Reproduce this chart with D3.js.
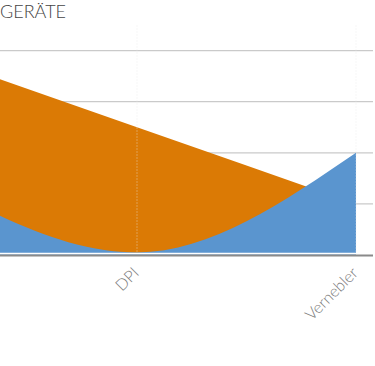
<!DOCTYPE html>
<html>
<head>
<meta charset="utf-8">
<script src="https://cdn.jsdelivr.net/npm/d3@7"></script>
<style>
    html, body { margin: 0; padding: 0; background: #fff; overflow: hidden; }
    #chart { width: 375px; height: 366px; }
    text { font-family: "Lato", "Open Sans", sans-serif; font-weight: 300; }
</style>
</head>
<body>
<div id="chart"></div>
<script>
const categories = ["Inhalator", "DPI", "Vernebler"];
const orangeValues = [4, 2.5, 1];
const blueValues = [1.6, 0.05, 2];
const gridTicks = [1, 2, 3, 4];
const title = "GERÄTE";

document.addEventListener('DOMContentLoaded', function () {
    const width = 375;
    const height = 366;

    const svg = d3.select("#chart")
        .append("svg")
        .attr("width", width)
        .attr("height", height);

    // plot area is wider than the window, the left part is cut off
    const x = d3.scalePoint()
        .domain(categories)
        .range([-82, 356]);

    const y = d3.scaleLinear()
        .domain([0, 4.5])
        .range([255, 25]);

    const plotRight = 373;

    // horizontal grid
    svg.append("g")
        .selectAll("line")
        .data(gridTicks)
        .enter()
        .append("line")
        .attr("x1", -120)
        .attr("x2", plotRight)
        .attr("y1", d => y(d))
        .attr("y2", d => y(d))
        .attr("stroke", "#cacaca")
        .attr("stroke-width", 1.2);

    const area = values => d3.area()
        .x((d, i) => x(categories[i]))
        .y0(y(0))
        .y1(d => y(d))
        .curve(d3.curveMonotoneX)(values);

    svg.append("path")
        .attr("d", area(orangeValues))
        .attr("fill", "#db7a05");

    svg.append("path")
        .attr("d", area(blueValues))
        .attr("fill", "#5a95cf");

    // vertical dotted grid on top of the areas
    svg.append("g")
        .selectAll("line")
        .data(categories)
        .enter()
        .append("line")
        .attr("x1", d => x(d))
        .attr("x2", d => x(d))
        .attr("y1", y.range()[1])
        .attr("y2", y(0) - 2)
        .attr("stroke", "#e6e6e6")
        .attr("stroke-opacity", 0.35)
        .attr("stroke-width", 1)
        .attr("stroke-dasharray", "2,1");

    // gap + baseline
    svg.append("line")
        .attr("x1", -120)
        .attr("x2", plotRight)
        .attr("y1", y(0) - 1.4)
        .attr("y2", y(0) - 1.4)
        .attr("stroke", "#fff")
        .attr("stroke-width", 1.8);

    svg.append("line")
        .attr("x1", -120)
        .attr("x2", plotRight)
        .attr("y1", y(0) + 0.5)
        .attr("y2", y(0) + 0.5)
        .attr("stroke", "#8a8a8a")
        .attr("stroke-width", 2.2);

    // category labels (only the ones inside the window)
    svg.append("g")
        .selectAll("text")
        .data(categories.filter(d => x(d) > 0))
        .enter()
        .append("text")
        .attr("transform", d => `translate(${x(d) + 3},${y(0) + 19}) rotate(-45)`)
        .attr("text-anchor", "end")
        .attr("font-size", 16)
        .attr("fill", "#7a7a7a")
        .text(d => d);

    svg.append("text")
        .attr("x", 66)
        .attr("y", 18)
        .attr("text-anchor", "end")
        .attr("font-size", 18)
        .attr("fill", "#444")
        .text(title);
});
</script>
</body>
</html>
